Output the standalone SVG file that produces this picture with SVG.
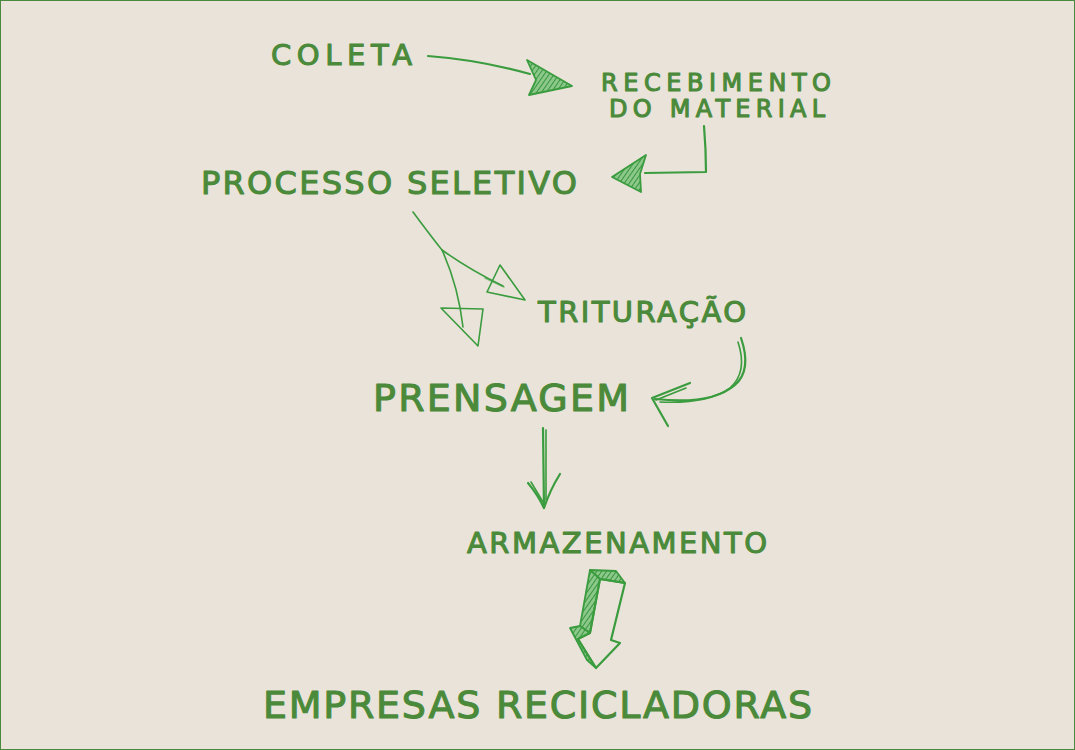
<svg xmlns="http://www.w3.org/2000/svg" width="1075" height="750" viewBox="0 0 1075 750">
<defs>
<style>
.t{font-family:"DejaVu Sans","Liberation Sans",sans-serif;font-weight:normal;fill:#4a8a3a;stroke:#4a8a3a;stroke-width:1.1;stroke-linejoin:round;}
.c{fill:none;stroke:#3a9c3e;stroke-width:2.2;stroke-linecap:round;stroke-linejoin:round;}
.thin{fill:none;stroke:#3a9c3e;stroke-width:1.6;stroke-linecap:round;stroke-linejoin:round;}
.hatch{fill:url(#h);stroke:#3a9c3e;stroke-width:1.8;stroke-linejoin:round;}
</style>
<pattern id="h" width="4" height="4" patternUnits="userSpaceOnUse" patternTransform="rotate(35)">
<rect width="4" height="4" fill="#8cc88a"/>
<line x1="0" y1="0" x2="0" y2="4" stroke="#2f8f35" stroke-width="1.8"/>
</pattern>
</defs>
<rect x="0.5" y="0.5" width="1074" height="749" fill="#eae3d9" stroke="#4a8a3e" stroke-width="1"/>

<g id="coleta"><text class="t" x="271" y="65" font-size="29" textLength="141" lengthAdjust="spacing">COLETA</text></g>
<g id="recebimento">
<text class="t" x="601" y="91" font-size="24" textLength="230" lengthAdjust="spacing">RECEBIMENTO</text>
<text class="t" x="609" y="117" font-size="24" textLength="216" lengthAdjust="spacing">DO MATERIAL</text>
</g>
<g id="processo"><text class="t" x="201" y="194" font-size="32" textLength="376" lengthAdjust="spacing">PROCESSO SELETIVO</text></g>
<g id="trituracao"><text class="t" x="538" y="322" font-size="29" textLength="208" lengthAdjust="spacing">TRITURAÇÃO</text></g>
<g id="prensagem"><text class="t" x="373" y="411" font-size="38" textLength="256" lengthAdjust="spacing">PRENSAGEM</text></g>
<g id="armazenamento"><text class="t" x="467" y="553" font-size="29" textLength="300" lengthAdjust="spacing">ARMAZENAMENTO</text></g>
<g id="empresas"><text class="t" x="263" y="718" font-size="38" textLength="549" lengthAdjust="spacing">EMPRESAS RECICLADORAS</text></g>

<g id="connectors">
<!-- coleta -> recebimento -->
<path class="c" d="M428 56 Q480 60 530 74"/>
<path class="hatch" d="M527 60 L572 86 L529 95 L536 80 Z"/>
<!-- recebimento -> processo -->
<path class="c" d="M704 126 Q706 150 706 172 L645 173"/>
<path class="hatch" d="M612 177 L646 155 L640 174 L641 192 Z"/>
<!-- processo -> trituracao / prensagem -->
<path class="thin" d="M413 212 Q430 235 442 250 Q470 270 503 286"/>
<path class="thin" d="M485 278 L504 287" stroke-opacity="0.6"/>
<path class="thin" d="M500 265 L525 300 L487 292 Z"/>
<path class="thin" d="M442 250 Q458 285 463 327"/>
<path class="thin" d="M441 308 L483 309 L478 346 Z"/>
<!-- trituracao -> prensagem -->
<path class="c" d="M741 338 Q752 370 735 385 Q712 405 655 399"/>
<path class="thin" d="M738 342 Q748 372 730 388 Q708 404 660 402"/>
<path class="c" d="M690 383 L652 398 L668 426"/>
<path class="thin" d="M686 388 L656 400"/>
<!-- prensagem -> armazenamento -->
<path class="c" d="M543 428 L544 508"/>
<path class="thin" d="M546 430 L546 500"/>
<path class="c" d="M528 483 Q538 495 544 508 Q550 490 560 474"/>
<path class="thin" d="M531 482 L543 502"/>
<!-- armazenamento -> empresas : 3D block arrow -->
<path class="hatch" d="M590 570 L616 571 L625 583 L600 579 Z"/>
<path class="hatch" d="M590 570 L600 579 L590 633 L580 626 Z"/>
<path class="hatch" d="M570 628 L580 626 L590 633 L578 639 L596 668 L587 660 Z"/>
<path class="c" d="M600 579 L625 583 L611 640 L620 643 L596 668 L578 639 L590 633 Z"/>
</g>
</svg>
